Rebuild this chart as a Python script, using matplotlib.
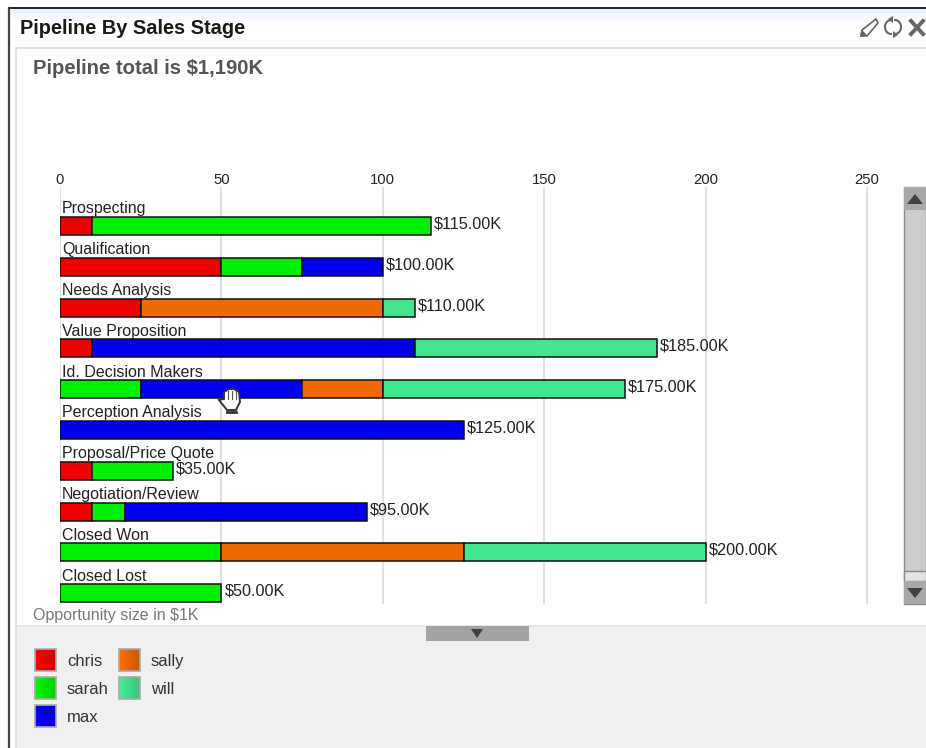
import matplotlib
matplotlib.use('Agg')
import matplotlib.pyplot as plt
import numpy as np
from matplotlib.patches import Polygon, Rectangle

plt.rcParams['font.family'] = ['Liberation Sans', 'DejaVu Sans']

stages = ['Prospecting', 'Qualification', 'Needs Analysis', 'Value Proposition',
          'Id. Decision Makers', 'Perception Analysis', 'Proposal/Price Quote',
          'Negotiation/Review', 'Closed Won', 'Closed Lost']
people = ['chris', 'sarah', 'max', 'sally', 'will']
chris = [10, 50, 25, 10, 0, 0, 10, 10, 0, 0]
sarah = [105, 25, 0, 0, 25, 0, 25, 10, 50, 50]
max_ = [0, 25, 0, 100, 50, 125, 0, 75, 0, 0]
sally = [0, 0, 75, 0, 25, 0, 0, 0, 75, 0]
will = [0, 0, 10, 75, 75, 0, 0, 0, 75, 0]
series = [chris, sarah, max_, sally, will]
colors = ['#ee0000', '#00ee00', '#0000ee', '#ee6a00', '#43e58f']
ticks = [0, 50, 100, 150, 200, 250]

W, H = 926, 748
fig = plt.figure(figsize=(W / 100, H / 100), dpi=100)

# page furniture, in pixel coordinates
bg = fig.add_axes([0, 0, 1, 1])
bg.set_xlim(0, W)
bg.set_ylim(H, 0)
bg.axis('off')

grad = np.linspace(0, 1, 40).reshape(-1, 1, 1) * np.array([0.1, 0.05, 0.0]).reshape(1, 1, 3)
grad = np.array([0.90, 0.95, 1.0]).reshape(1, 1, 3) + grad
grad = np.clip(grad, 0, 1)
bg.imshow(grad, extent=(10, W, 22, 9), aspect='auto', zorder=1)
bg.set_xlim(0, W)
bg.set_ylim(H, 0)
bg.plot([9, W], [8, 8], color='#111111', lw=1.3, zorder=3)
bg.plot([9, 9], [8, H], color='#444444', lw=1.6, zorder=3)
bg.plot([15.5, W], [47.5, 47.5], color='#dddddd', lw=1.2, zorder=3)
bg.plot([15.5, 15.5], [47.5, H], color='#dddddd', lw=1.2, zorder=3)
bg.add_patch(Rectangle((16, 626), W - 16, H - 626, fc='#f0f0f0', ec='none', zorder=1))
bg.plot([16, W], [626, 626], color='#e4e4e4', lw=1.2, zorder=2)

bg.text(20, 28, 'Pipeline By Sales Stage', fontsize=14.4, fontweight='bold',
        color='#1a1a1a', va='center', ha='left', zorder=4)
bg.text(33, 68.5, 'Pipeline total is $1,190K', fontsize=14.6, fontweight='bold',
        color='#555555', va='center', ha='left', zorder=4)
bg.text(33, 615.5, 'Opportunity size in $1K', fontsize=11.5, color='#777777',
        va='center', ha='left', zorder=4)

# title bar icons
bg.add_patch(Polygon([[861, 36], [862, 30], [876, 19], [878, 23], [867, 36]], closed=True,
                     fc='white', ec='#666666', lw=1.2, zorder=4))
bg.add_patch(Polygon([[861, 36], [862, 31], [866, 35]], closed=True, fc='#666666', ec='#666666', zorder=5))
theta = np.radians(np.linspace(90, 270, 20))
bg.plot(891 + 6 * np.cos(theta), 27 - 7 * np.sin(theta), color='#666666', lw=1.5, zorder=4)
bg.plot(895 - 6 * np.cos(theta), 27 + 7 * np.sin(theta), color='#666666', lw=1.5, zorder=4)
bg.add_patch(Polygon([[888, 19], [893, 16], [893, 23]], closed=True, fc='#666666', ec='none', zorder=4))
bg.add_patch(Polygon([[898, 35], [893, 31], [893, 38]], closed=True, fc='#666666', ec='none', zorder=4))
bg.plot([911, 923], [21, 34], color='#666666', lw=2.8, zorder=4)
bg.plot([923, 911], [21, 34], color='#666666', lw=2.8, zorder=4)

# scrollbar
bg.add_patch(Rectangle((904, 187), 22, 417, fc='#cccccc', ec='#8a8a8a', lw=1, zorder=2))
bg.add_patch(Rectangle((904, 187), 22, 23, fc='#a8a8a8', ec='none', zorder=3))
bg.add_patch(Rectangle((904, 571), 22, 10, fc='#e4e4e4', ec='#8a8a8a', lw=1, zorder=3))
bg.add_patch(Rectangle((904, 581), 22, 23, fc='#a8a8a8', ec='none', zorder=3))
bg.add_patch(Polygon([[907, 204], [923, 204], [915, 194]], closed=True, fc='#404040', ec='none', zorder=4))
bg.add_patch(Polygon([[907, 588], [923, 588], [915, 598]], closed=True, fc='#404040', ec='none', zorder=4))

# collapse tab
bg.add_patch(Rectangle((426, 626), 103, 15, fc='#a3a3a3', ec='none', zorder=3))
bg.add_patch(Polygon([[471, 629], [483, 629], [477, 638]], closed=True, fc='#404040', ec='none', zorder=4))

# chart
px_per_unit = (867 - 60) / 250
bar_top, bar_step = 226, 40.8
ax = fig.add_axes([60 / W, 1 - 604 / H, (904 - 60) / W, (604 - 187) / H])
ax.patch.set_alpha(0)
ax.set_xlim(0, (904 - 60) / px_per_unit)
ax.set_ylim((604 - bar_top) / bar_step, (187 - bar_top) / bar_step)
for spine in ax.spines.values():
    spine.set_visible(False)
ax.set_xticks(ticks)
ax.xaxis.tick_top()
ax.tick_params(axis='x', length=0, pad=0, labelsize=10.7, labelcolor='#222222')
ax.set_yticks([])
ax.grid(axis='x', color='#dcdcdc', lw=1.2)
ax.set_axisbelow(True)

y = np.arange(len(stages))
left = np.zeros(len(stages))
for values, color, name in zip(series, colors, people):
    values = np.array(values, dtype=float)
    mask = values > 0
    ax.barh(y[mask], values[mask], left=left[mask], height=18 / bar_step, color=color,
            edgecolor='#111111', linewidth=1.1, label=name, zorder=3)
    left += values

for i, stage in enumerate(stages):
    ax.annotate(stage, (0, i), xytext=(2, 9.5), textcoords='offset pixels', fontsize=11.5,
                color='#222222', va='bottom', ha='left', zorder=4, annotation_clip=False)
    ax.annotate(f'${left[i]:.2f}K', (left[i], i), xytext=(3, 2), textcoords='offset pixels',
                fontsize=11.7, color='#222222', va='center', ha='left', zorder=4)

# legend
slots = [(35, 649), (35, 677), (35, 705), (119, 649), (119, 677)]
order = [0, 1, 2, 3, 4]
for idx, (sx, sy) in zip(order, slots):
    base = np.array(matplotlib.colors.to_rgb(colors[idx]))
    shade = np.linspace(1.05, 0.85, 30).reshape(1, -1, 1) * base.reshape(1, 1, 3)
    bg.imshow(np.clip(shade, 0, 1), extent=(sx, sx + 21, sy + 22, sy), aspect='auto', zorder=4)
    bg.add_patch(Rectangle((sx, sy), 21, 22, fc='none', ec='#aaaaaa', lw=1.2, zorder=5))
    bg.text(sx + 32, sy + 12.5, people[idx], fontsize=12, color='#333333', va='center', ha='left', zorder=5)
bg.set_xlim(0, W)
bg.set_ylim(H, 0)

# hand cursor on top of the bars
fg = fig.add_axes([0, 0, 1, 1])
fg.patch.set_alpha(0)
fg.set_xlim(0, W)
fg.set_ylim(H, 0)
fg.axis('off')
fg.add_patch(Polygon([[219, 400], [224, 399], [224, 392], [229, 389], [234, 389], [239, 392],
                      [240, 402], [236, 410], [227, 410]], closed=True, fc='white',
                     ec='#333333', lw=1.4, zorder=6))
for fx in (228, 232, 236):
    fg.plot([fx, fx], [391, 399], color='#555555', lw=0.8, zorder=7)
fg.plot([227, 236], [412, 412], color='#333333', lw=2, zorder=7)

fig.savefig('out.png', dpi=100)
